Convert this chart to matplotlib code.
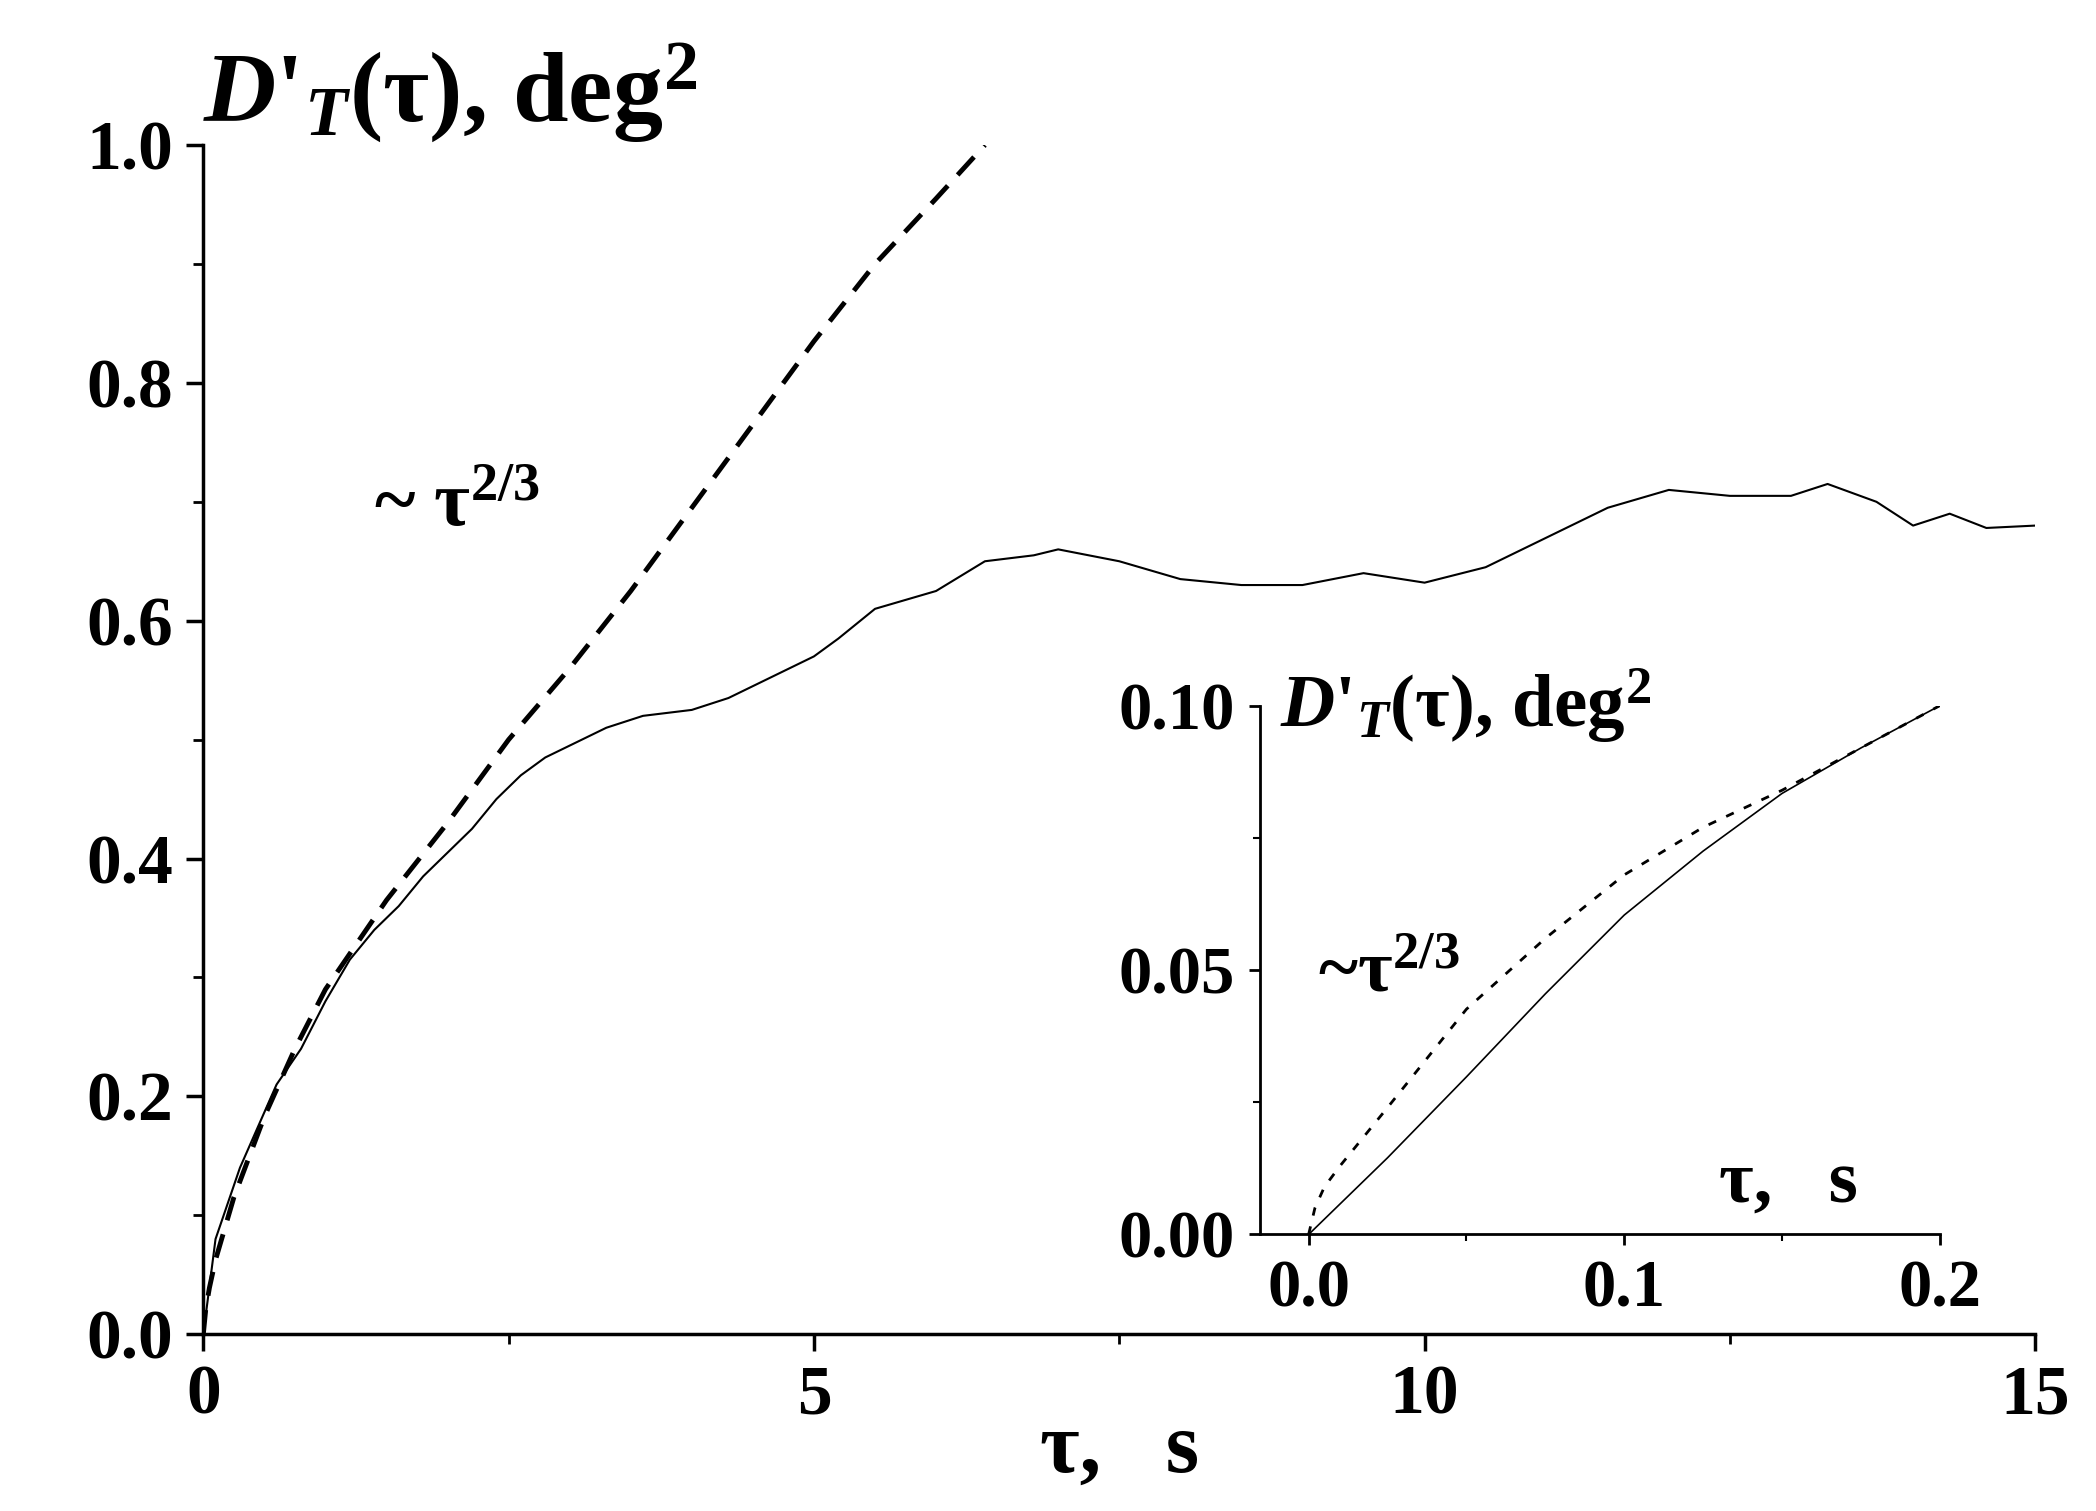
import matplotlib
matplotlib.use("Agg")
import matplotlib.pyplot as plt
from matplotlib.ticker import MultipleLocator

plt.rcParams['font.family'] = ['Liberation Serif', 'DejaVu Serif']
plt.rcParams['font.weight'] = 'bold'
plt.rcParams['mathtext.fontset'] = 'custom'
plt.rcParams['mathtext.rm'] = 'Liberation Serif:bold'
plt.rcParams['mathtext.it'] = 'Liberation Serif:italic:bold'
plt.rcParams['mathtext.bf'] = 'Liberation Serif:bold'

# main data
tau_main = [0, 0.1, 0.3, 0.6, 0.8, 1.0, 1.2, 1.4, 1.6, 1.8, 2.0, 2.2, 2.4, 2.6, 2.8, 3.0, 3.3,
            3.6, 4.0, 4.3, 4.6, 5.0, 5.2, 5.5, 6.0, 6.4, 6.8, 7.0, 7.5, 8.0, 8.5, 9.0, 9.5,
            10.0, 10.5, 11.0, 11.5, 12.0, 12.5, 13.0, 13.3, 13.7, 14.0, 14.3, 14.6, 15.0]
d_main = [0, 0.08, 0.14, 0.21, 0.24, 0.28, 0.315, 0.34, 0.36, 0.385, 0.405, 0.425, 0.45, 0.47,
          0.485, 0.495, 0.51, 0.52, 0.525, 0.535, 0.55, 0.57, 0.585, 0.61, 0.625, 0.65, 0.655,
          0.66, 0.65, 0.635, 0.63, 0.63, 0.64, 0.632, 0.645, 0.67, 0.695, 0.71, 0.705, 0.705,
          0.715, 0.70, 0.68, 0.69, 0.678, 0.68]
tau_fit = [0, 0.02, 0.05, 0.1, 0.25, 0.5, 0.75, 1.0, 1.5, 2.0, 2.5, 3.0, 3.5, 4.0, 4.5, 5.0, 5.5, 6.0, 6.4]
d_fit = [0, 0.021, 0.039, 0.0625, 0.115, 0.183, 0.240, 0.29, 0.365, 0.43, 0.50, 0.56, 0.625,
         0.695, 0.765, 0.835, 0.90, 0.955, 1.0]

# inset data
tau_in = [0, 0.025, 0.05, 0.075, 0.1, 0.125, 0.15, 0.175, 0.2]
d_in = [0, 0.0145, 0.0298, 0.0455, 0.0604, 0.0725, 0.0834, 0.092, 0.1]
tau_in_fit = [0, 0.002, 0.005, 0.01, 0.025, 0.05, 0.075, 0.1, 0.125, 0.15, 0.175, 0.2]
d_in_fit = [0, 0.005, 0.009, 0.013, 0.024, 0.0426, 0.056, 0.068, 0.077, 0.084, 0.092, 0.1]

fig = plt.figure(figsize=(20.96, 15.11), dpi=100)
ax = fig.add_axes([0.097, 0.117, 0.874, 0.787])
ax.plot(tau_main, d_main, color='black', lw=1.5)
ax.plot(tau_fit, d_fit, color='black', lw=3.5, dashes=(5, 3))
ax.set_xlim(0, 15)
ax.set_ylim(0, 1.0)
ax.xaxis.set_major_locator(MultipleLocator(5))
ax.xaxis.set_minor_locator(MultipleLocator(2.5))
ax.yaxis.set_minor_locator(MultipleLocator(0.1))
ax.set_yticks([0, 0.2, 0.4, 0.6, 0.8, 1.0])
ax.set_yticklabels(['0.0', '0.2', '0.4', '0.6', '0.8', '1.0'])
ax.spines['top'].set_visible(False)
ax.spines['right'].set_visible(False)
for s in ['left', 'bottom']:
    ax.spines[s].set_linewidth(2.5)
ax.tick_params(which='major', length=12, width=2.5, labelsize=50, pad=10)
ax.tick_params(which='minor', length=7, width=2)
for lbl in ax.get_xticklabels() + ax.get_yticklabels():
    lbl.set_fontweight('bold')
ax.text(0.0, 1.0, r"$\mathit{D}$'$_{\mathit{T}}$(τ), deg$^{2}$", transform=ax.transAxes,
        fontsize=72, fontweight='bold', ha='left', va='bottom')
ax.text(0.5, -0.065, "τ,   s", transform=ax.transAxes, fontsize=62, fontweight='bold',
        ha='center', va='top')
ax.text(1.4, 0.68, r"~ τ$^{2/3}$", fontsize=56, fontweight='bold')

ins = fig.add_axes([0.601, 0.183, 0.3245, 0.35])
ins.plot(tau_in, d_in, color='black', lw=1.2)
ins.plot(tau_in_fit, d_in_fit, color='black', lw=2, dashes=(3, 4))
ins.set_xlim(-0.0155, 0.2)
ins.set_ylim(0, 0.1)
ins.set_xticks([0, 0.1, 0.2])
ins.set_xticklabels(['0.0', '0.1', '0.2'])
ins.xaxis.set_minor_locator(MultipleLocator(0.05))
ins.set_yticks([0, 0.05, 0.1])
ins.set_yticklabels(['0.00', '0.05', '0.10'])
ins.yaxis.set_minor_locator(MultipleLocator(0.025))
ins.spines['top'].set_visible(False)
ins.spines['right'].set_visible(False)
for s in ['left', 'bottom']:
    ins.spines[s].set_linewidth(2)
ins.tick_params(which='major', length=8, width=2, labelsize=48, pad=10)
ins.tick_params(which='minor', length=5, width=1.5)
for lbl in ins.get_xticklabels() + ins.get_yticklabels():
    lbl.set_fontweight('bold')
ins.text(0.03, 1.0, r"$\mathit{D}$'$_{\mathit{T}}$(τ), deg$^{2}$", transform=ins.transAxes,
         fontsize=54, fontweight='bold', ha='left', va='center')
ins.text(0.003, 0.046, r"~τ$^{2/3}$", fontsize=54, fontweight='bold')
ins.text(0.13, 0.006, "τ,   s", fontsize=54, fontweight='bold')

fig.savefig('out.png', dpi=100)
